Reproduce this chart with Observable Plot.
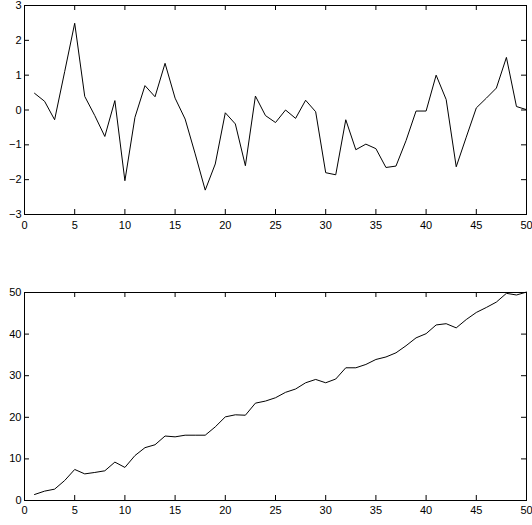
<!DOCTYPE html>
<html>
<head>
<meta charset="utf-8">
<script src="https://cdn.jsdelivr.net/npm/d3@7"></script>
<script src="https://cdn.jsdelivr.net/npm/@observablehq/plot@0.6"></script>
<style>
  html, body { margin: 0; padding: 0; background: #fff; }
  #chart { width: 532px; }
  #chart svg { display: block; }
</style>
</head>
<body>
<div id="chart"></div>
<script>
const xs = d3.range(1, 51);
const topValues = [0.48, 0.25, -0.28, 1.1, 2.49, 0.39, -0.16, -0.76, 0.27, -2.03,
  -0.21, 0.70, 0.38, 1.34, 0.34, -0.26, -1.26, -2.30, -1.55, -0.08,
  -0.40, -1.60, 0.40, -0.16, -0.36, 0.0, -0.24, 0.28, -0.05, -1.80,
  -1.86, -0.28, -1.14, -0.98, -1.11, -1.65, -1.61, -0.88, -0.03, -0.03,
  1.00, 0.30, -1.63, -0.78, 0.06, 0.34, 0.63, 1.51, 0.10, 0.01];
const bottomValues = [1.44, 2.25, 2.73, 4.8, 7.46, 6.4, 6.74, 7.14, 9.23, 7.95,
  10.8, 12.7, 13.4, 15.5, 15.3, 15.7, 15.7, 15.7, 17.7, 20.1,
  20.6, 20.5, 23.4, 23.9, 24.7, 26.0, 26.8, 28.3, 29.1, 28.3,
  29.2, 31.9, 31.9, 32.7, 33.9, 34.5, 35.5, 37.2, 39.1, 40.1,
  42.2, 42.5, 41.5, 43.5, 45.2, 46.4, 47.7, 49.8, 49.4, 50.1];
const xTicks = [0, 5, 10, 15, 20, 25, 30, 35, 40, 45, 50];
const topYTicks = [-3, -2, -1, 0, 1, 2, 3];
const bottomYTicks = [0, 10, 20, 30, 40, 50];

const W = 532, ML = 24, MR = 6, TL = 5;

function panel(values, yDomain, yTicks, height, mt, mb, xPad) {
  const data = xs.map((x, i) => ({x, y: values[i]}));
  const pw = W - ML - MR, ph = height - mt - mb;
  return Plot.plot({
    width: W, height,
    marginLeft: ML, marginRight: MR, marginTop: mt, marginBottom: mb,
    style: {fontFamily: "'Liberation Sans', Arial, sans-serif", fontSize: "11px", color: "black", background: "white"},
    x: {domain: [0, 50]},
    y: {domain: yDomain},
    marks: [
      Plot.axisX(xTicks, {tickSize: 0, tickPadding: xPad, label: null, fontSize: 11}),
      Plot.axisY(yTicks, {tickSize: 0, tickPadding: 3, label: null, fontSize: 11}),
      Plot.tickX(xTicks, {x: d => d, insetTop: ph - TL, stroke: "black"}),
      Plot.tickX(xTicks, {x: d => d, insetBottom: ph - TL, stroke: "black"}),
      Plot.tickY(yTicks, {y: d => d, insetRight: pw - TL, stroke: "black"}),
      Plot.tickY(yTicks, {y: d => d, insetLeft: pw - TL, stroke: "black"}),
      Plot.line(data, {x: "x", y: "y", stroke: "black", strokeWidth: 1}),
      Plot.frame({stroke: "black", strokeWidth: 1})
    ]
  });
}

const el = document.getElementById("chart");
el.append(panel(topValues, [-3, 3], topYTicks, 262, 5, 48, 7));
el.append(panel(bottomValues, [0, 50], bottomYTicks, 263, 30, 25, 6));
</script>
</body>
</html>
